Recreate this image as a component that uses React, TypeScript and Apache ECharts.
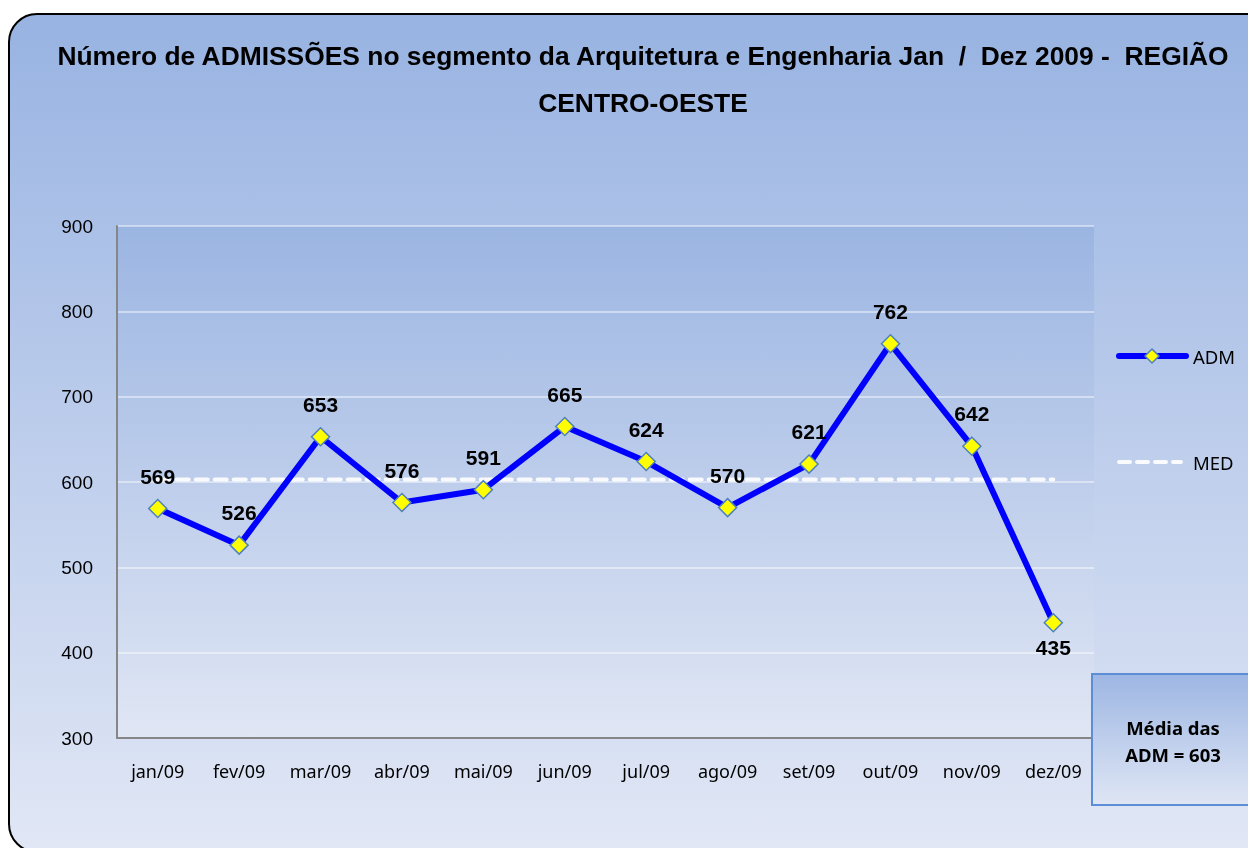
import React, { useEffect, useRef } from "react";
import * as echarts from "echarts";

const months = ["jan/09", "fev/09", "mar/09", "abr/09", "mai/09", "jun/09", "jul/09", "ago/09", "set/09", "out/09", "nov/09", "dez/09"];
const admValues = [569, 526, 653, 576, 591, 665, 624, 570, 621, 762, 642, 435];
const mediaValue = 603;
const medValues = months.map(() => mediaValue);
const belowLabelIdx = [11];
const legendNames = ["ADM", "MED"];
const titleText = "Número de ADMISSÕES no segmento da Arquitetura e Engenharia Jan  /  Dez 2009 -  REGIÃO\nCENTRO-OESTE";
const boxText = "Média das\nADM = " + mediaValue;

export default function App() {
  const ref = useRef<HTMLDivElement>(null);
  useEffect(() => {
    if (!ref.current) return;
    const chart = echarts.init(ref.current, null, { renderer: "svg" });
    const grad = (a: string, b: string) =>
      new echarts.graphic.LinearGradient(0, 0, 0, 1, [
        { offset: 0, color: a },
        { offset: 1, color: b },
      ]);
    const legendFont = "18.5px 'Noto Sans', sans-serif";
    chart.setOption({
      animation: false,
      title: {
        text: titleText,
        left: 638,
        textAlign: "center",
        top: 27,
        textStyle: {
          fontFamily: "Liberation Sans, Arial",
          fontWeight: "bold",
          fontSize: 26.4,
          color: "#000",
          lineHeight: 47,
        },
      },
      graphic: [
        {
          type: "rect",
          z: -10,
          silent: true,
          shape: { x: 9, y: 14, width: 1280, height: 838, r: 28 },
          style: { fill: grad("#98b3e2", "#e1e7f5"), stroke: "#000", lineWidth: 2 },
        },
        {
          type: "rect",
          z: 5,
          shape: { x: 1092, y: 674, width: 200, height: 131 },
          style: { fill: grad("#9db6e3", "#dfe6f4"), stroke: "#5b8ed6", lineWidth: 2 },
        },
        {
          type: "text",
          z: 6,
          x: 1173,
          y: 741,
          style: {
            text: boxText,
            fill: "#000",
            font: "bold 18.5px 'Noto Sans', sans-serif",
            align: "center",
            verticalAlign: "middle",
            lineHeight: 27,
          },
        },
        // legend: ADM
        {
          type: "line",
          z: 6,
          shape: { x1: 1119, y1: 356, x2: 1186, y2: 356 },
          style: { stroke: "#0000ff", lineWidth: 6, lineCap: "round" },
        },
        {
          type: "polygon",
          z: 7,
          shape: { points: [[1152, 349], [1159, 356], [1152, 363], [1145, 356]] },
          style: { fill: "#ffff00", stroke: "#4f81bd", lineWidth: 1.5 },
        },
        {
          type: "text",
          z: 6,
          x: 1193,
          y: 356,
          style: { text: legendNames[0], fill: "#000", font: legendFont, verticalAlign: "middle" },
        },
        // legend: MED
        {
          type: "line",
          z: 6,
          shape: { x1: 1119, y1: 462, x2: 1181, y2: 462 },
          style: { stroke: "rgba(255,255,255,0.9)", lineWidth: 4, lineCap: "round", lineDash: [11, 7] },
        },
        {
          type: "text",
          z: 6,
          x: 1193,
          y: 462,
          style: { text: legendNames[1], fill: "#000", font: legendFont, verticalAlign: "middle" },
        },
      ],
      grid: {
        left: 117,
        top: 226,
        width: 977,
        height: 512,
        show: true,
        borderWidth: 0,
        backgroundColor: grad("#9bb5e2", "#e0e6f4"),
      },
      xAxis: {
        type: "category",
        data: months,
        boundaryGap: true,
        axisLine: { lineStyle: { color: "#868686", width: 2 } },
        axisTick: { show: false },
        axisLabel: { fontFamily: "Noto Sans", fontSize: 18, color: "#000", margin: 24, interval: 0 },
      },
      yAxis: {
        type: "value",
        min: 300,
        max: 900,
        interval: 100,
        axisLine: { show: true, lineStyle: { color: "#868686", width: 2 } },
        axisTick: { show: false },
        axisLabel: { fontFamily: "Liberation Sans, Arial", fontSize: 19, color: "#000", margin: 24 },
        splitLine: { lineStyle: { color: "rgba(255,255,255,0.6)", width: 1.5 } },
      },
      series: [
        {
          name: "MED",
          type: "line",
          data: medValues,
          symbol: "none",
          z: 2,
          lineStyle: { color: "rgba(255,255,255,0.9)", width: 4, type: [12, 7], cap: "round" },
          itemStyle: { color: "#ffffff" },
        },
        {
          name: "ADM",
          type: "line",
          data: admValues.map((v, i) => ({
            value: v,
            label: belowLabelIdx.includes(i) ? { position: "bottom", distance: 4 } : undefined,
          })),
          symbol: "diamond",
          symbolSize: 18,
          z: 3,
          lineStyle: { color: "#0000ff", width: 6 },
          itemStyle: { color: "#ffff00", borderColor: "#4f81bd", borderWidth: 1.5 },
          label: {
            show: true,
            position: "top",
            distance: 12,
            fontFamily: "Liberation Sans, Arial",
            fontWeight: "bold",
            fontSize: 21,
            color: "#000",
          },
        },
      ],
    });
    return () => chart.dispose();
  }, []);
  return <div ref={ref} style={{ position: "fixed", left: 0, top: 0, width: 1248, height: 848 }} />;
}
